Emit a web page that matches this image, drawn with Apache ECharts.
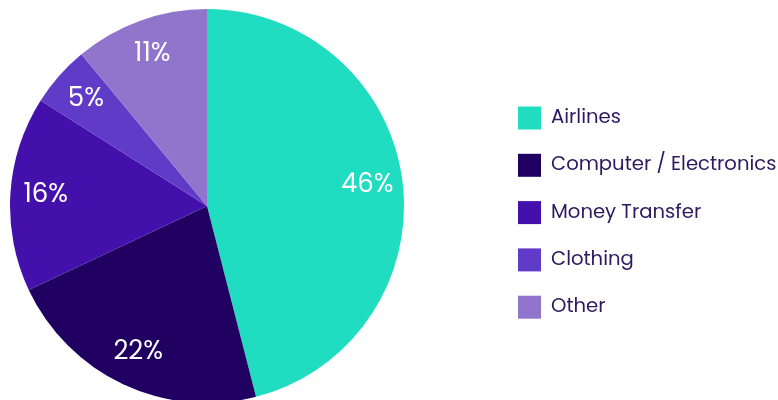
<!DOCTYPE html>
<html><head><meta charset="utf-8">
<script src="https://cdn.jsdelivr.net/npm/echarts@6/dist/echarts.min.js"></script>
<style>html,body{margin:0;padding:0;background:#fff}#c{width:778px;height:400px}</style>
</head><body><div id="c"></div>
<script>
const categories = ['Airlines', 'Computer / Electronics', 'Money Transfer', 'Clothing', 'Other'];
const values = [46, 22, 16, 5, 11];
const colors = ['#20dcc0', '#200060', '#4410ac', '#5f3bc8', '#9174cc'];

const chart = echarts.init(document.getElementById('c'));
const data = categories.map((n, i) => ({ name: n, value: values[i], itemStyle: { color: colors[i] } }));
const font = 'Poppins, "Open Sans", sans-serif';
chart.setOption({
  animation: false,
  legend: {
    orient: 'vertical', left: 518, top: 106.5, padding: 0,
    itemWidth: 23, itemHeight: 23, itemGap: 24.3, icon: 'rect',
    textStyle: { color: '#2a1a60', fontSize: 19.6, fontFamily: font, padding: [0, 0, 0, 5] },
    data: categories
  },
  series: [
    {
      type: 'pie', center: [207, 206], radius: [0, 197], startAngle: 90, clockwise: true,
      label: { show: false }, labelLine: { show: false }, silent: true,
      emphasis: { disabled: true },
      data: data
    },
    {
      type: 'pie', center: [207, 206], radius: [120, 197], startAngle: 90, clockwise: true,
      itemStyle: { color: 'rgba(0,0,0,0)' }, silent: true, emphasis: { disabled: true },
      label: { show: true, position: 'inside', color: '#fff', fontSize: 26, fontFamily: font,
        formatter: p => p.value + '%' },
      labelLine: { show: false },
      data: categories.map((n, i) => ({ name: n, value: values[i], itemStyle: { color: 'rgba(0,0,0,0)' } }))
    }
  ]
});
</script></body></html>
